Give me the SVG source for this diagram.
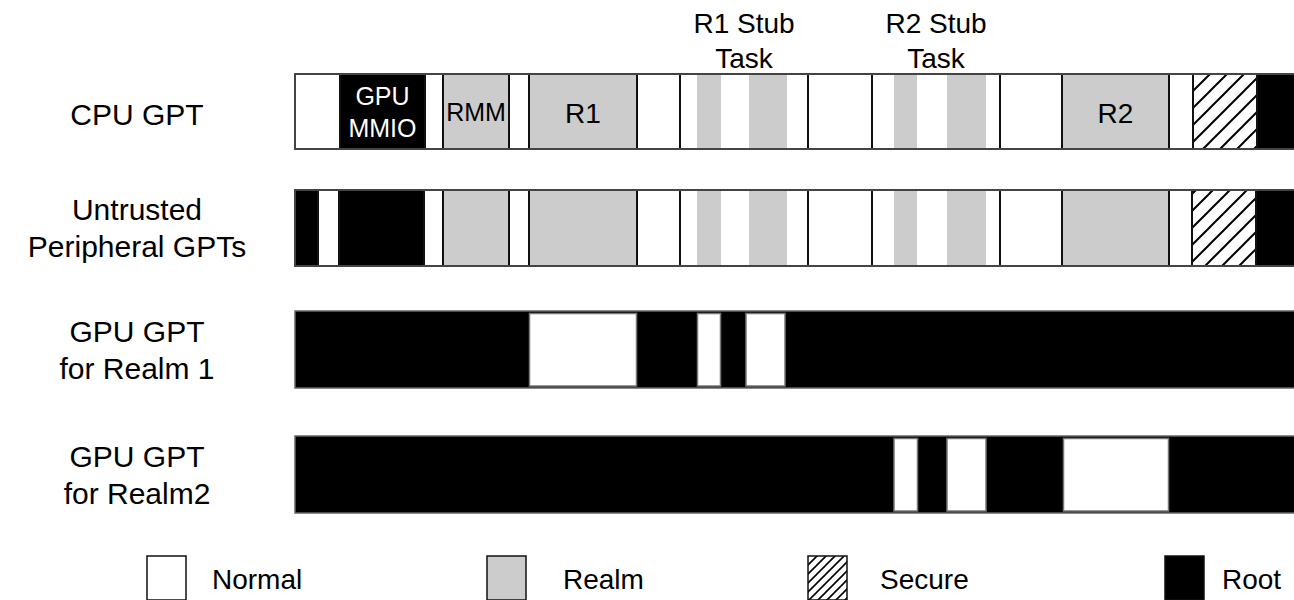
<svg xmlns="http://www.w3.org/2000/svg" width="1294" height="600" viewBox="0 0 1294 600">
  <defs>
    <pattern id="hatch" patternUnits="userSpaceOnUse" width="17" height="17" patternTransform="translate(1193,74)">
      <path d="M-2,19 L19,-2 M-2,2 L2,-2 M15,19 L19,15" stroke="#000" stroke-width="2" fill="none"/>
    </pattern>
    <pattern id="hatch-small" patternUnits="userSpaceOnUse" width="9" height="9" patternTransform="translate(808,556)">
      <path d="M-1,10 L10,-1 M-1,1 L1,-1 M8,10 L10,8" stroke="#000" stroke-width="1.6" fill="none"/>
    </pattern>
    <style>
      text { font-family: "Liberation Sans", Arial, sans-serif; fill: #000; }
      .label { font-size: 30px; text-anchor: middle; }
      .stub { font-size: 28px; text-anchor: middle; }
      .seg-text { font-size: 28px; text-anchor: middle; }
      .small { font-size: 25px; text-anchor: middle; }
      .legend-text { font-size: 28px; }
      .w { fill: #fff; stroke: #111; stroke-width: 2; }
      .g { fill: #cccccc; stroke: #111; stroke-width: 2; }
      .b { fill: #000; stroke: #111; stroke-width: 2; }
      .s { fill: url(#hatch); stroke: #111; stroke-width: 2; }
      .stripe { fill: #cccccc; stroke: none; }
      .frame { fill: none; stroke: #444; stroke-width: 2; }
      .root-bar { fill: #000; stroke: #666; stroke-width: 1.5; }
      .hole { fill: #fff; stroke: #777; stroke-width: 1.5; }
      .key { stroke: #111; stroke-width: 1.5; }
    </style>
  </defs>

  <!-- row labels -->
  <g id="labels">
    <text class="label" x="137" y="125">CPU GPT</text>
    <text class="label" x="137" y="220">Untrusted</text>
    <text class="label" x="137" y="257">Peripheral GPTs</text>
    <text class="label" x="137" y="342">GPU GPT</text>
    <text class="label" x="137" y="379">for Realm 1</text>
    <text class="label" x="137" y="467">GPU GPT</text>
    <text class="label" x="137" y="504">for Realm2</text>
  </g>

  <!-- stub task captions -->
  <g id="stub-labels">
    <text class="stub" x="744" y="33">R1 Stub</text>
    <text class="stub" x="744" y="68">Task</text>
    <text class="stub" x="936" y="33">R2 Stub</text>
    <text class="stub" x="936" y="68">Task</text>
  </g>

  <!-- CPU granule protection table -->
  <g id="cpu-gpt">
    <rect class="w" x="295" y="74" width="45" height="75"/>
    <rect class="b" x="340" y="74" width="85" height="75"/>
    <rect class="w" x="425" y="74" width="18" height="75"/>
    <rect class="g" x="443" y="74" width="66" height="75"/>
    <rect class="w" x="509" y="74" width="20" height="75"/>
    <rect class="g" x="529" y="74" width="108" height="75"/>
    <rect class="w" x="637" y="74" width="43" height="75"/>
    <rect class="w" x="680" y="74" width="128" height="75"/>
    <rect class="stripe" x="697" y="75" width="24" height="73"/>
    <rect class="stripe" x="749" y="75" width="38" height="73"/>
    <rect class="w" x="808" y="74" width="64" height="75"/>
    <rect class="w" x="872" y="74" width="128" height="75"/>
    <rect class="stripe" x="894" y="75" width="23" height="73"/>
    <rect class="stripe" x="947" y="75" width="39" height="73"/>
    <rect class="w" x="1000" y="74" width="62" height="75"/>
    <rect class="g" x="1062" y="74" width="107" height="75"/>
    <rect class="w" x="1169" y="74" width="24" height="75"/>
    <rect class="s" x="1193" y="74" width="64" height="75"/>
    <rect class="b" x="1257" y="74" width="40" height="75"/>
    <rect class="frame" x="295" y="74" width="1002" height="75"/>
    <text class="small" x="382.5" y="105" style="fill:#fff">GPU</text>
    <text class="small" x="382.5" y="137" style="fill:#fff">MMIO</text>
    <text class="small" x="476" y="121">RMM</text>
    <text class="seg-text" x="583" y="123">R1</text>
    <text class="seg-text" x="1115.5" y="123">R2</text>
  </g>

  <!-- untrusted peripheral tables -->
  <g id="peripheral-gpts">
    <rect class="b" x="295" y="190" width="23" height="76"/>
    <rect class="w" x="318" y="190" width="21" height="76"/>
    <rect class="b" x="339" y="190" width="85" height="76"/>
    <rect class="w" x="424" y="190" width="19" height="76"/>
    <rect class="g" x="443" y="190" width="66" height="76"/>
    <rect class="w" x="509" y="190" width="20" height="76"/>
    <rect class="g" x="529" y="190" width="108" height="76"/>
    <rect class="w" x="637" y="190" width="43" height="76"/>
    <rect class="w" x="680" y="190" width="128" height="76"/>
    <rect class="stripe" x="697" y="191" width="24" height="74"/>
    <rect class="stripe" x="749" y="191" width="38" height="74"/>
    <rect class="w" x="808" y="190" width="64" height="76"/>
    <rect class="w" x="872" y="190" width="128" height="76"/>
    <rect class="stripe" x="894" y="191" width="23" height="74"/>
    <rect class="stripe" x="947" y="191" width="39" height="74"/>
    <rect class="w" x="1000" y="190" width="62" height="76"/>
    <rect class="g" x="1062" y="190" width="107" height="76"/>
    <rect class="w" x="1169" y="190" width="23" height="76"/>
    <rect class="s" x="1192" y="190" width="64" height="76"/>
    <rect class="b" x="1256" y="190" width="41" height="76"/>
    <rect class="frame" x="295" y="190" width="1002" height="76"/>
  </g>

  <!-- GPU table for realm 1 -->
  <g id="gpu-gpt-realm1">
    <rect class="root-bar" x="295" y="311" width="1002" height="77"/>
    <rect class="hole" x="529.5" y="313.5" width="107" height="72.5"/>
    <rect class="hole" x="697.5" y="313.5" width="23" height="72.5"/>
    <rect class="hole" x="746" y="313.5" width="39" height="72.5"/>
  </g>

  <!-- GPU table for realm 2 -->
  <g id="gpu-gpt-realm2">
    <rect class="root-bar" x="295" y="436" width="1002" height="77"/>
    <rect class="hole" x="894" y="438.5" width="23.5" height="72.5"/>
    <rect class="hole" x="947" y="438.5" width="39" height="72.5"/>
    <rect class="hole" x="1063.5" y="438.5" width="105" height="72.5"/>
  </g>

  <!-- legend -->
  <g id="legend">
    <rect class="key" x="147" y="556" width="39" height="44" fill="#fff"/>
    <text class="legend-text" x="212" y="589">Normal</text>
    <rect class="key" x="487" y="556" width="39" height="44" fill="#cccccc"/>
    <text class="legend-text" x="563" y="589">Realm</text>
    <rect class="key" x="808" y="556" width="39" height="44" fill="url(#hatch-small)"/>
    <text class="legend-text" x="880" y="589">Secure</text>
    <rect class="key" x="1165" y="556" width="39" height="44" fill="#000"/>
    <text class="legend-text" x="1222" y="589">Root</text>
  </g>
</svg>
